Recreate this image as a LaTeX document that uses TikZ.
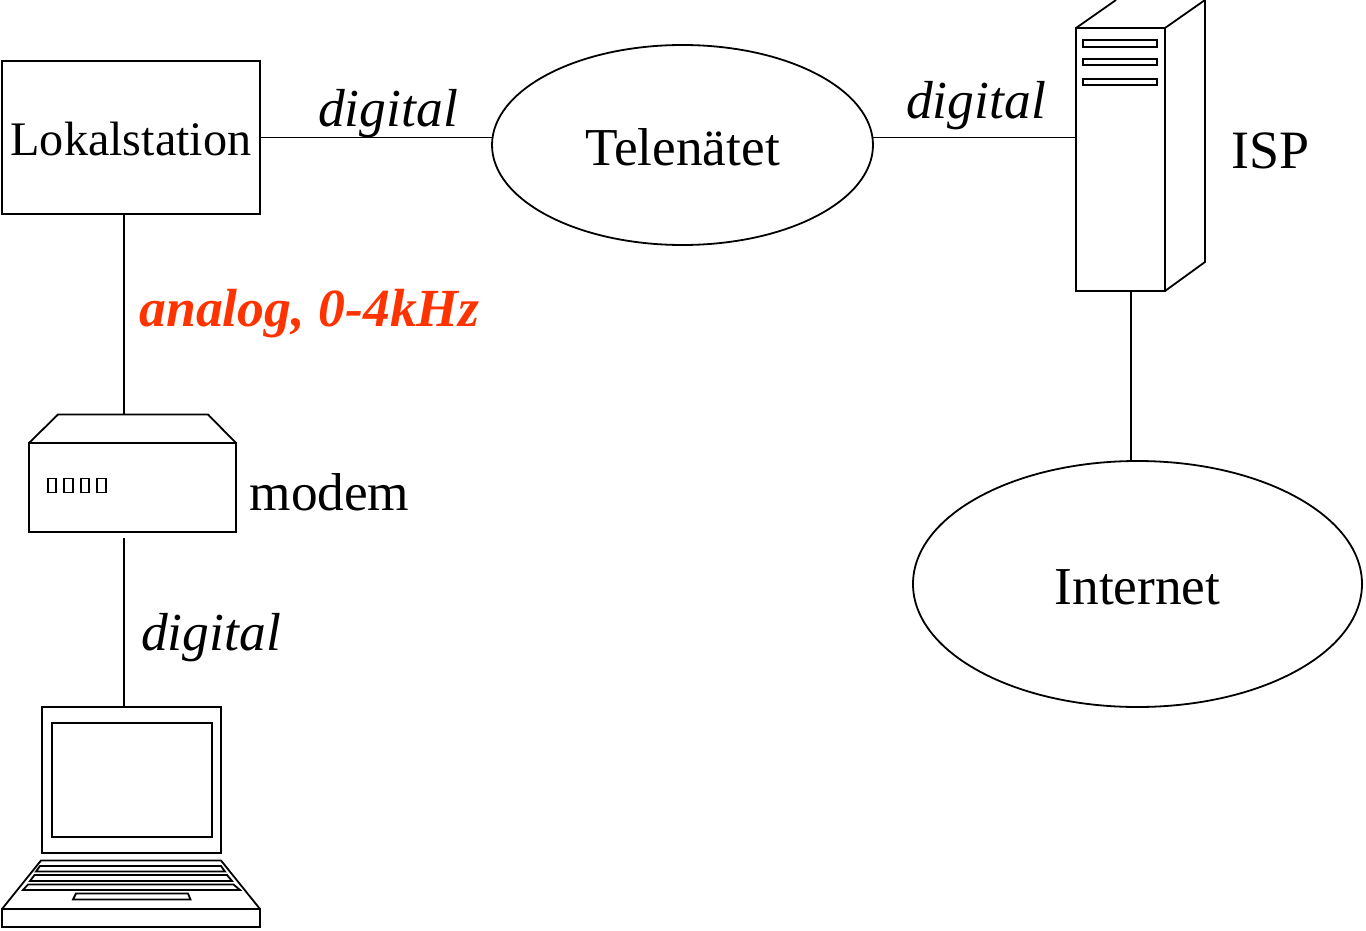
\documentclass[tikz,border=0pt]{standalone}
\usepackage{fontspec}
\setmainfont{Liberation Serif}
\usetikzlibrary{shapes.geometric}
\definecolor{alarm}{HTML}{FF3300}
\tikzset{
  ln/.style={line width=1.8pt,line join=miter},
  big/.style={font=\fontsize{53.3}{60}\selectfont,inner sep=0pt},
  lab/.style={big,anchor=base},
  sig/.style={lab,font=\fontsize{53.5}{60}\selectfont\itshape},
  alarmsig/.style={lab,text=alarm,font=\fontsize{53.7}{60}\selectfont\itshape\bfseries},
  box/.style={ln,draw,rectangle,inner sep=0pt,outer sep=0pt},
  cloud/.style={ln,draw,ellipse,big,outer sep=0pt,text height=42pt,text depth=0pt},
}
\begin{document}
\begin{tikzpicture}[x=1pt,y=-1pt]
\useasboundingbox (0,0) rectangle (1366,931);
\clip (0,0) rectangle (1366,931);
% Lokalstation
\node[box,minimum width=258pt,minimum height=153pt,font=\fontsize{48.2}{56}\selectfont,text height=37pt,text depth=0pt] (lok) at (131,137.5) {Lokalstation};
% Clouds
\node[cloud,minimum width=381pt,minimum height=200pt] (tele) at (682.5,145) {Telenätet};
\node[cloud,minimum width=449pt,minimum height=246pt,text height=40pt] (inet) at (1137.5,584) {Internet};
% Server
\node[box,minimum width=89pt,minimum height=263pt] (srv) at (1120.5,159.5) {};
\draw[ln] (srv.north west) -- (1116,0) (srv.north east) -- (1205,0) -- (1205,262) -- (srv.south east);
\node[box,minimum width=74pt,minimum height=6.5pt] (slota) at (1120,43.5) {};
\node[box,minimum width=74pt,minimum height=6pt] (slotb) at (1120,62) {};
\node[box,minimum width=74pt,minimum height=6pt] (slotc) at (1120,82) {};
\coordinate (srvport) at (1076,137.5);
\coordinate (srvdown) at (1131,291);
% Modem
\node[box,minimum width=207pt,minimum height=89pt] (modem) at (132.5,487.5) {};
\draw[ln] (modem.north west) -- (58,414.5) -- (208,414.5) -- (modem.north east);
\foreach \n/\x in {a/52,b/68.5,c/85,d/101.5}
  \node[box,minimum width=8.5pt,minimum height=14pt] (led\n) at (\x,485.5) {};
\coordinate (modemin) at (124,414.5);
\coordinate (modemout) at (124,538);
% Laptop
\node[box,minimum width=179pt,minimum height=146pt] (lid) at (131.5,780) {};
\node[box,minimum width=160pt,minimum height=114pt] (screen) at (132,780) {};
\coordinate (lidport) at (124,707);
\node[box,minimum width=258pt,minimum height=18pt] (base) at (131,918) {};
\draw[ln] (base.north west) -- (41,860.5) -- (221,860.5) -- (base.north east);
\draw[ln] (40,866) -- (221,866) -- (225,871.5) -- (36,871.5) -- cycle;
\draw[ln] (34.5,875) -- (227,875) -- (232,881) -- (30,881) -- cycle;
\draw[ln] (28,884.5) -- (233.5,884.5) -- (240,890) -- (23,890) -- cycle;
\draw[ln] (76,893.5) -- (188,893.5) -- (190.5,899.5) -- (73,899.5) -- cycle;
% Connectors
\draw[ln] (lok.east) -- (tele.west |- lok.east);
\draw[ln] (tele.east |- srvport) -- (srvport);
\draw[ln] (srvdown) -- (srvdown |- inet.north);
\draw[ln] (modemin |- lok.south) -- (modemin);
\draw[ln] (modemout) -- (lidport);
% Labels
\node[sig] (d1) at (388,127) {digital};
\node[sig] (d2) at (976,119) {digital};
\node[sig] (d3) at (211,650) {digital};
\node[alarmsig] (an) at (309.5,326) {analog, 0-4kHz};
\node[lab] (modemlab) at (329.5,510) {modem};
\node[lab,font=\fontsize{54}{60}\selectfont] (isplab) at (1270.5,169) {ISP};
\end{tikzpicture}
\end{document}
